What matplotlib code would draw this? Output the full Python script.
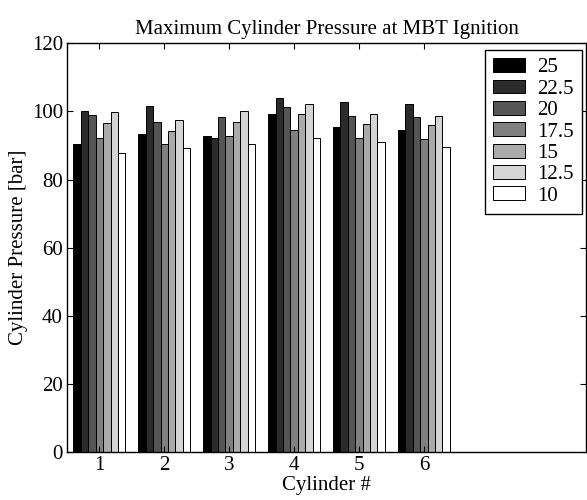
import numpy as np
import matplotlib
matplotlib.use('Agg')
import matplotlib.pyplot as plt

# Datos
cilindros = [1, 2, 3, 4, 5, 6]
series = ['25', '22.5', '20', '17.5', '15', '12.5', '10']
p_25 = [90.4, 93.4, 92.7, 99.4, 95.4, 94.5]
p_22_5 = [100.0, 101.6, 92.3, 104.0, 102.8, 102.3]
p_20 = [98.9, 96.9, 98.3, 101.2, 98.6, 98.3]
p_17_5 = [92.2, 90.4, 92.7, 94.7, 92.1, 91.8]
p_15 = [96.6, 94.4, 96.9, 99.2, 96.4, 96.1]
p_12_5 = [99.7, 97.5, 100.0, 102.2, 99.2, 98.6]
p_10 = [87.7, 89.2, 90.4, 92.2, 91.0, 89.6]
valores = [p_25, p_22_5, p_20, p_17_5, p_15, p_12_5, p_10]

plt.rcParams['font.family'] = ['Liberation Serif', 'DejaVu Serif']
plt.rcParams['font.size'] = 15

fig = plt.figure(figsize=(5.87, 5.0), dpi=100)
ax = fig.add_axes([67 / 587, 1 - 452.3 / 500, (586 - 67) / 587, (452.3 - 43.3) / 500])

n = len(series)
ancho = 0.8 / n
x = np.array(cilindros, dtype=float)
grises = np.linspace(0, 1, n)
for i, (etiqueta, v) in enumerate(zip(series, valores)):
    desplaz = (i - (n - 1) / 2) * ancho
    g = grises[i]
    ax.bar(x + desplaz, v, width=ancho, color=(g, g, g), edgecolor='black',
           linewidth=0.7, label=etiqueta)

ax.set_xlim(0.5, 8.5)
ax.set_ylim(0, 120)
ax.set_xticks(cilindros)
ax.set_yticks(range(0, 121, 20))
ax.tick_params(direction='in', top=True, right=True, length=4, width=0.8, pad=3)
for s in ax.spines.values():
    s.set_linewidth(1.0)

ax.set_title('Maximum Cylinder Pressure at MBT Ignition', fontsize=15, pad=7)
ax.set_xlabel('Cylinder #', labelpad=0.5)
ax.set_ylabel('Cylinder Pressure [bar]', labelpad=3)

leg = ax.legend(loc='upper right', bbox_to_anchor=(0.992, 0.984), fancybox=False,
                framealpha=1, edgecolor='black', handlelength=1.55, handleheight=0.65,
                labelspacing=0.1, borderpad=0.4, handletextpad=0.55, borderaxespad=0)
leg.get_frame().set_linewidth(1.0)

fig.savefig('out.png', dpi=100)
